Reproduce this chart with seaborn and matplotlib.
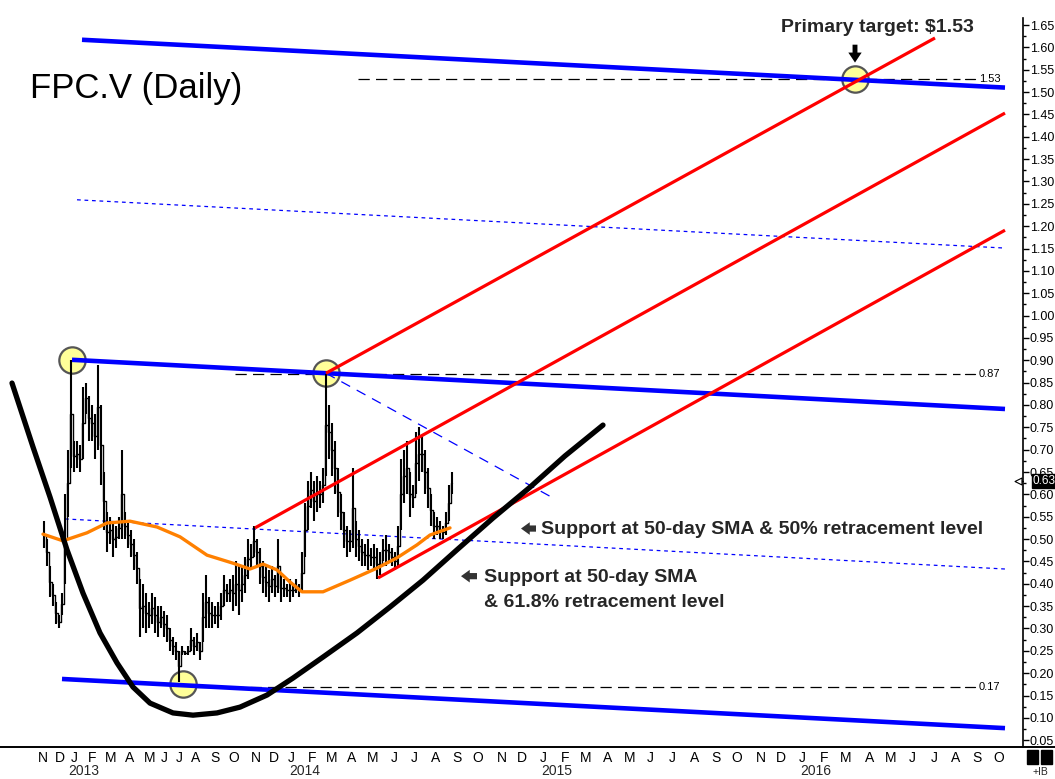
import numpy as np
import pandas as pd
import matplotlib
matplotlib.use("Agg")
import matplotlib.pyplot as plt
import seaborn as sns
from matplotlib.patches import Rectangle
from matplotlib.lines import Line2D

# ---------------- data ----------------
# price bars (bar index ~ chart x position), highs and lows
bar_start, bar_step = 44, 3
bar_hi = [0.54, 0.50, 0.44, 0.40, 0.36, 0.33, 0.38, 0.60, 0.70, 0.90,
          0.72, 0.72, 0.71, 0.84, 0.85, 0.82, 0.80, 0.78, 0.89, 0.80,
          0.65, 0.56, 0.55, 0.54, 0.53, 0.55, 0.70, 0.56, 0.54, 0.52,
          0.50, 0.47, 0.41, 0.40, 0.38, 0.36, 0.38, 0.37, 0.35, 0.35,
          0.34, 0.33, 0.30, 0.28, 0.27, 0.25, 0.26, 0.25, 0.26, 0.30,
          0.28, 0.29, 0.27, 0.38, 0.42, 0.37, 0.36, 0.35, 0.36, 0.38,
          0.42, 0.40, 0.41, 0.42, 0.45, 0.44, 0.44, 0.46, 0.50, 0.49,
          0.53, 0.50, 0.48, 0.45, 0.44, 0.43, 0.44, 0.42, 0.50, 0.42,
          0.41, 0.40, 0.41, 0.40, 0.41, 0.40, 0.47, 0.58, 0.63, 0.65,
          0.63, 0.64, 0.63, 0.66, 0.87, 0.80, 0.76, 0.72, 0.66, 0.60,
          0.56, 0.53, 0.52, 0.66, 0.54, 0.52, 0.50, 0.49, 0.50, 0.48,
          0.49, 0.48, 0.47, 0.50, 0.51, 0.49, 0.48, 0.47, 0.53, 0.68,
          0.70, 0.72, 0.65, 0.62, 0.74, 0.75, 0.73, 0.70, 0.66, 0.60,
          0.56, 0.55, 0.54, 0.53, 0.56, 0.62, 0.65]
bar_lo = [0.48, 0.44, 0.37, 0.35, 0.31, 0.30, 0.33, 0.40, 0.55, 0.66,
          0.65, 0.66, 0.65, 0.68, 0.78, 0.72, 0.72, 0.68, 0.70, 0.62,
          0.52, 0.47, 0.49, 0.46, 0.48, 0.50, 0.50, 0.50, 0.48, 0.46,
          0.43, 0.40, 0.28, 0.30, 0.29, 0.30, 0.31, 0.29, 0.28, 0.30,
          0.28, 0.27, 0.25, 0.24, 0.23, 0.18, 0.24, 0.24, 0.24, 0.25,
          0.24, 0.25, 0.23, 0.27, 0.30, 0.30, 0.30, 0.31, 0.30, 0.32,
          0.35, 0.36, 0.36, 0.34, 0.35, 0.33, 0.36, 0.38, 0.41, 0.43,
          0.46, 0.44, 0.40, 0.38, 0.37, 0.36, 0.38, 0.37, 0.38, 0.36,
          0.37, 0.37, 0.36, 0.37, 0.38, 0.37, 0.38, 0.46, 0.52, 0.57,
          0.54, 0.56, 0.57, 0.58, 0.64, 0.68, 0.64, 0.60, 0.55, 0.52,
          0.48, 0.46, 0.47, 0.48, 0.46, 0.45, 0.44, 0.44, 0.43, 0.44,
          0.43, 0.41, 0.42, 0.45, 0.44, 0.45, 0.44, 0.43, 0.44, 0.52,
          0.58, 0.60, 0.55, 0.57, 0.60, 0.63, 0.65, 0.60, 0.57, 0.53,
          0.50, 0.51, 0.50, 0.50, 0.51, 0.54, 0.60]
last_price = 0.63

# 50-day SMA
sma_x = [43, 63, 87, 107, 130, 157, 180, 207, 233, 250, 263, 277, 290,
         302, 323, 350, 377, 397, 417, 430, 450]
sma_y = [0.511, 0.496, 0.514, 0.536, 0.540, 0.527, 0.505, 0.464, 0.446,
         0.433, 0.444, 0.431, 0.404, 0.382, 0.382, 0.408, 0.435, 0.458,
         0.487, 0.509, 0.525]

# rounding-bottom curve
curve_x = [12, 33, 50, 67, 83, 100, 117, 133, 150, 173, 193, 217, 240,
           267, 293, 323, 357, 390, 423, 457, 493, 530, 565, 603]
curve_y = [0.849, 0.706, 0.594, 0.476, 0.379, 0.290, 0.223, 0.169, 0.133,
           0.111, 0.106, 0.111, 0.124, 0.151, 0.189, 0.236, 0.290, 0.348,
           0.408, 0.476, 0.547, 0.616, 0.686, 0.755]

# blue channel (thick), blue dotted, red fan: (x0, y0, x1, y1)
blue_thick = [(82, 1.617, 1005, 1.510), (72, 0.901, 1005, 0.791),
              (62, 0.187, 1005, 0.077)]
blue_dotted = [(77, 1.259, 1005, 1.151), (65, 0.545, 1005, 0.433)]
blue_dashed = [(326, 0.871, 553, 0.592)]
red_lines = [(326, 0.871, 935, 1.621), (255, 0.525, 1005, 1.453),
             (378, 0.413, 1005, 1.191)]
# horizontal levels: (value, start x)
levels = [(1.53, 358), (0.87, 235), (0.17, 180)]
# highlighted pivots
pivot_x = [72, 183, 326, 855]
pivot_y = [0.90, 0.175, 0.871, 1.53]

# axis labels
month_labels = ["N", "D", "J", "F", "M", "A", "M", "J", "J", "A", "S", "O",
                "N", "D", "J", "F", "M", "A", "M", "J", "J", "A", "S", "O",
                "N", "D", "J", "F", "M", "A", "M", "J", "J", "A", "S", "O",
                "N", "D", "J", "F", "M", "A", "M", "J", "J", "A", "S", "O"]
month_pos = [43, 60, 74, 92, 111, 130, 150, 164, 179, 196, 215, 234,
             256, 274, 291, 312, 332, 352, 373, 394, 414, 436, 457, 478,
             502, 522, 543, 565, 586, 608, 630, 650, 672, 695, 716, 737,
             761, 781, 802, 824, 846, 870, 891, 912, 934, 956, 977, 999]
year_labels = ["2013", "2014", "2015", "2016"]
year_pos = [84, 305, 557, 816]

# ---------------- figure ----------------
sns.set_theme(style="white")
plt.rcParams["font.family"] = ["Liberation Sans", "DejaVu Sans"]

W, H = 1055, 779
fig = plt.figure(figsize=(W / 100, H / 100), dpi=100)
ax = fig.add_axes([0, 1 - 747 / H, 1023 / W, (747 - 18) / H])
ax.set_xlim(0, 1023)
ax.set_ylim(0.0348, 1.6657)

# price bars
bx = bar_start + bar_step * np.arange(len(bar_hi))
ax.vlines(bx, bar_lo, bar_hi, color="black", lw=1.5, zorder=5)
mid = (np.array(bar_hi) + np.array(bar_lo)) / 2
ax.plot(bx, mid, color="black", lw=1.0, drawstyle="steps-mid", zorder=5)

# horizontal levels
for v, x0 in levels:
    ax.plot([x0, 960], [v, v], color="black", lw=0.9, dashes=(9, 5), zorder=2)
    ax.plot([965, 975], [v, v], color="black", lw=0.9, zorder=2)
    ax.text(979, v, f"{v:.2f}", fontsize=8, va="center", ha="left",
            color="black", zorder=2)

# pivot circles (under the lines, like the original)
ax.scatter(pivot_x, pivot_y, s=360, facecolor="#ffff99", edgecolor="#555555",
           linewidth=1.6, zorder=3)

# blue lines
for x0, y0, x1, y1 in blue_thick:
    ax.plot([x0, x1], [y0, y1], color="#0000ff", lw=3.3, solid_capstyle="butt",
            zorder=4)
for x0, y0, x1, y1 in blue_dotted:
    ax.plot([x0, x1], [y0, y1], color="#0000ff", lw=0.9, dashes=(3, 3),
            zorder=3)
for x0, y0, x1, y1 in blue_dashed:
    ax.plot([x0, x1], [y0, y1], color="#0000ff", lw=0.9, dashes=(8, 6),
            zorder=3)

# red fan
for x0, y0, x1, y1 in red_lines:
    ax.plot([x0, x1], [y0, y1], color="#ff0000", lw=2.3,
            solid_capstyle="butt", zorder=6)

# SMA and curve via seaborn
sns.lineplot(x=sma_x, y=sma_y, ax=ax, color="#ff8000", lw=2.4, zorder=7,
             sort=False, solid_joinstyle="round")
sns.lineplot(x=curve_x, y=curve_y, ax=ax, color="black", lw=3.8, zorder=7,
             sort=False, solid_capstyle="round", solid_joinstyle="round")

# texts
ax.text(30, 1.509, "FPC.V (Daily)", fontsize=25, ha="left", va="center",
        color="black", zorder=10)
ax.text(877, 1.645, "Primary target: $1.53", fontsize=14, fontweight="bold",
        ha="center", va="center", clip_on=False, zorder=10)
ax.annotate("", xy=(855, 1.566), xytext=(855, 1.606),
            arrowprops=dict(arrowstyle="simple,head_length=0.45,head_width=0.6,tail_width=0.22",
                            color="black", lw=0, mutation_scale=16,
                            shrinkA=0, shrinkB=0), zorder=10)
ax.text(541, 0.5225, "Support at 50-day SMA & 50% retracement level",
        fontsize=14, fontweight="bold", ha="left", va="center", zorder=10)
ax.text(484, 0.415, "Support at 50-day SMA", fontsize=14, fontweight="bold",
        ha="left", va="center", zorder=10)
ax.text(484, 0.359, "& 61.8% retracement level", fontsize=14,
        fontweight="bold", ha="left", va="center", zorder=10)
for xs, xe, v in [(536, 521, 0.5235), (477, 461, 0.417)]:
    ax.annotate("", xy=(xe, v), xytext=(xs, v),
                arrowprops=dict(arrowstyle="simple,head_length=0.45,head_width=0.65,tail_width=0.32",
                                color="#333333", lw=0, mutation_scale=14,
                                shrinkA=0, shrinkB=0),
                zorder=10)

# axes styling
for s in ["top", "left", "bottom"]:
    ax.spines[s].set_visible(False)
ax.spines["right"].set_color("black")
ax.spines["right"].set_linewidth(1.2)
ax.yaxis.tick_right()
yt = np.round(np.arange(0.05, 1.651, 0.05), 2)
ax.set_yticks(yt)
ax.set_yticklabels([f"{v:.2f}" for v in yt], fontsize=9)
ax.set_yticks(np.round(np.arange(0.075, 1.66, 0.05), 3), minor=True)
ax.tick_params(axis="y", which="major", direction="out", length=4, width=1,
               color="black", pad=1, labelcolor="black", right=True)
ax.tick_params(axis="y", which="minor", direction="out", length=2.5, width=1,
               color="black", right=True)
ax.set_xticks(month_pos)
ax.set_xticklabels(month_labels, fontsize=10)
ax.tick_params(axis="x", length=0, pad=3, labelcolor="black")
for xp, lab in zip(year_pos, year_labels):
    ax.text(xp, -(771 - 747) / 729, lab, transform=ax.get_xaxis_transform(),
            ha="center", va="center", fontsize=10, clip_on=False)

# last price marker
ax.text(1.0095, last_price, f"{last_price:.2f}",
        transform=ax.get_yaxis_transform(), color="white", fontsize=8.5,
        ha="left", va="center", clip_on=False, zorder=12,
        bbox=dict(boxstyle="square,pad=0.1", fc="black", ec="black"))
ax.plot([1.0, 0.992], [last_price, last_price],
        transform=ax.get_yaxis_transform(), color="black", lw=0.8,
        clip_on=False)
ax.scatter([0.9955], [last_price], transform=ax.get_yaxis_transform(),
           marker="<", s=25, facecolor="white", edgecolor="black", lw=0.8,
           clip_on=False, zorder=12)

# bottom axis line across full width and corner squares
fig.add_artist(Line2D([0, 1], [1 - 747 / H, 1 - 747 / H], color="black",
                      lw=1.4))
for x0 in [1027, 1041]:
    fig.add_artist(Rectangle((x0 / W, 1 - 764 / H), 11 / W, 14 / H,
                             color="black", transform=fig.transFigure))
fig.text(1040 / W, 1 - 772 / H, "+IB", fontsize=7.5, ha="center",
         va="center")

fig.savefig("out.png", dpi=100)
